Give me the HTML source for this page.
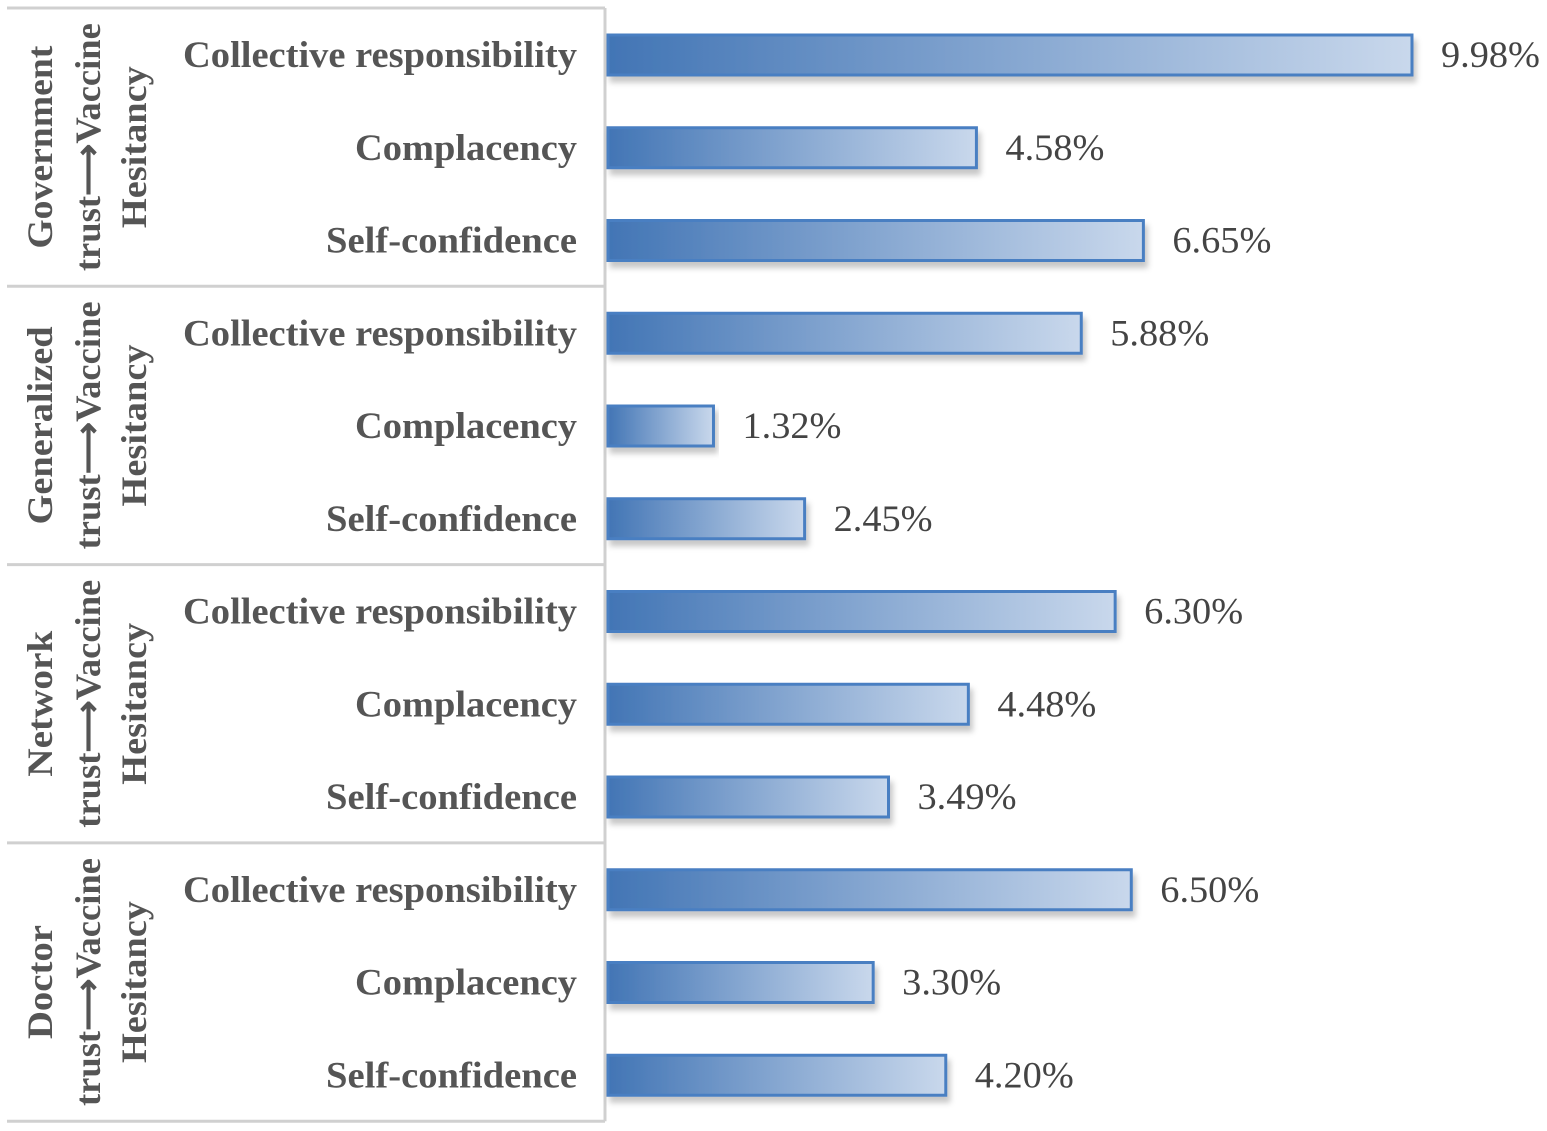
<!DOCTYPE html>
<html><head><meta charset="utf-8"><style>
html,body{margin:0;padding:0;background:#fff;}
svg{display:block;}
</style></head><body>
<svg id="chart" width="1547" height="1131" xmlns="http://www.w3.org/2000/svg">
<defs>
<linearGradient id="barGrad" x1="0" x2="1" y1="0" y2="0">
<stop offset="0" stop-color="#4275b5"/>
<stop offset="1" stop-color="#c9d8ec"/>
</linearGradient>
<filter id="shadow" x="-5%" y="-20%" width="110%" height="160%">
<feDropShadow dx="3" dy="6" stdDeviation="3" flood-color="#000" flood-opacity="0.22"/>
</filter>
</defs>
<g id="frame"></g>
<g id="bars"></g>
</svg>
<script>
const groups = ["Government", "Generalized", "Network", "Doctor"];
const categories = ["Collective responsibility", "Complacency", "Self-confidence"];
const values = [9.98, 4.58, 6.65, 5.88, 1.32, 2.45, 6.30, 4.48, 3.49, 6.50, 3.30, 4.20];
const valueLabels = ["9.98%","4.58%","6.65%","5.88%","1.32%","2.45%","6.30%","4.48%","3.49%","6.50%","3.30%","4.20%"];

const NS = "http://www.w3.org/2000/svg";
const x0 = 607, pxPerUnit = 80.66;
const xScale = v => x0 + v * pxPerUnit;
const top0 = 8, groupH = 278.3;
const rowY = i => 55 + i * 92.75;
const barH = 40;
const catWidths = {"Collective responsibility":394, "Complacency":222, "Self-confidence":251};
const groupWidths = {"Government":203, "Generalized":198, "Network":146, "Doctor":114};
function el(tag, attrs, parent){const e=document.createElementNS(NS,tag);for(const k in attrs)e.setAttribute(k,attrs[k]);parent.appendChild(e);return e;}
const frame = document.getElementById("frame");
const bars = document.getElementById("bars");
const serif = '"Liberation Serif", serif';

for (let g = 0; g <= groups.length; g++) {
  const y = top0 + g * groupH;
  const l = el("line", {x1:7, x2:605, y1:y, y2:y, stroke:"#d0d0d0", "stroke-width":3}, frame);
  
  
}
const vl = el("line", {x1:605, x2:605, y1:top0, y2:top0 + 4*groupH, stroke:"#d0d0d0", "stroke-width":3}, frame);



groups.forEach((g, gi) => {
  const cy = top0 + (gi + 0.5) * groupH;
  const t = el("text", {transform:`translate(0,${cy}) rotate(-90)`, "font-family":serif, "font-weight":"bold", "font-size":36, fill:"#555", "text-anchor":"middle"}, frame);
  
  
  const lines = [g, "trust\u27F6Vaccine", "Hesitancy"];
  const ws = [groupWidths[g], 248, 162];
  const xs = [52, 100, 146];
  lines.forEach((s, k) => {
    const ts = el("tspan", {x:0, y:xs[k], textLength:ws[k], lengthAdjust:"spacingAndGlyphs"}, t);
    ts.textContent = s;
  });
});

values.forEach((v, i) => {
  const cy = rowY(i);
  const c = categories[i % 3];
  const cat = el("text", {x:577, y:cy + 12, "text-anchor":"end", "font-family":serif, "font-weight":"bold", "font-size":37, fill:"#555", textLength:catWidths[c], lengthAdjust:"spacingAndGlyphs"}, frame);
  cat.textContent = c;
  
  
  const r = el("rect", {x:x0 + 1, y:cy - barH/2, width:xScale(v) - x0 - 1, height:barH, fill:"url(#barGrad)", stroke:"#4a7fc2", "stroke-width":3, filter:"url(#shadow)"}, bars);
  
  
  const lab = el("text", {x:xScale(v) + 29, y:cy + 12, "font-family":serif, "font-size":37, fill:"#444", textLength:99, lengthAdjust:"spacingAndGlyphs"}, bars);
  lab.textContent = valueLabels[i];
  
  
});
</script>
</body></html>
